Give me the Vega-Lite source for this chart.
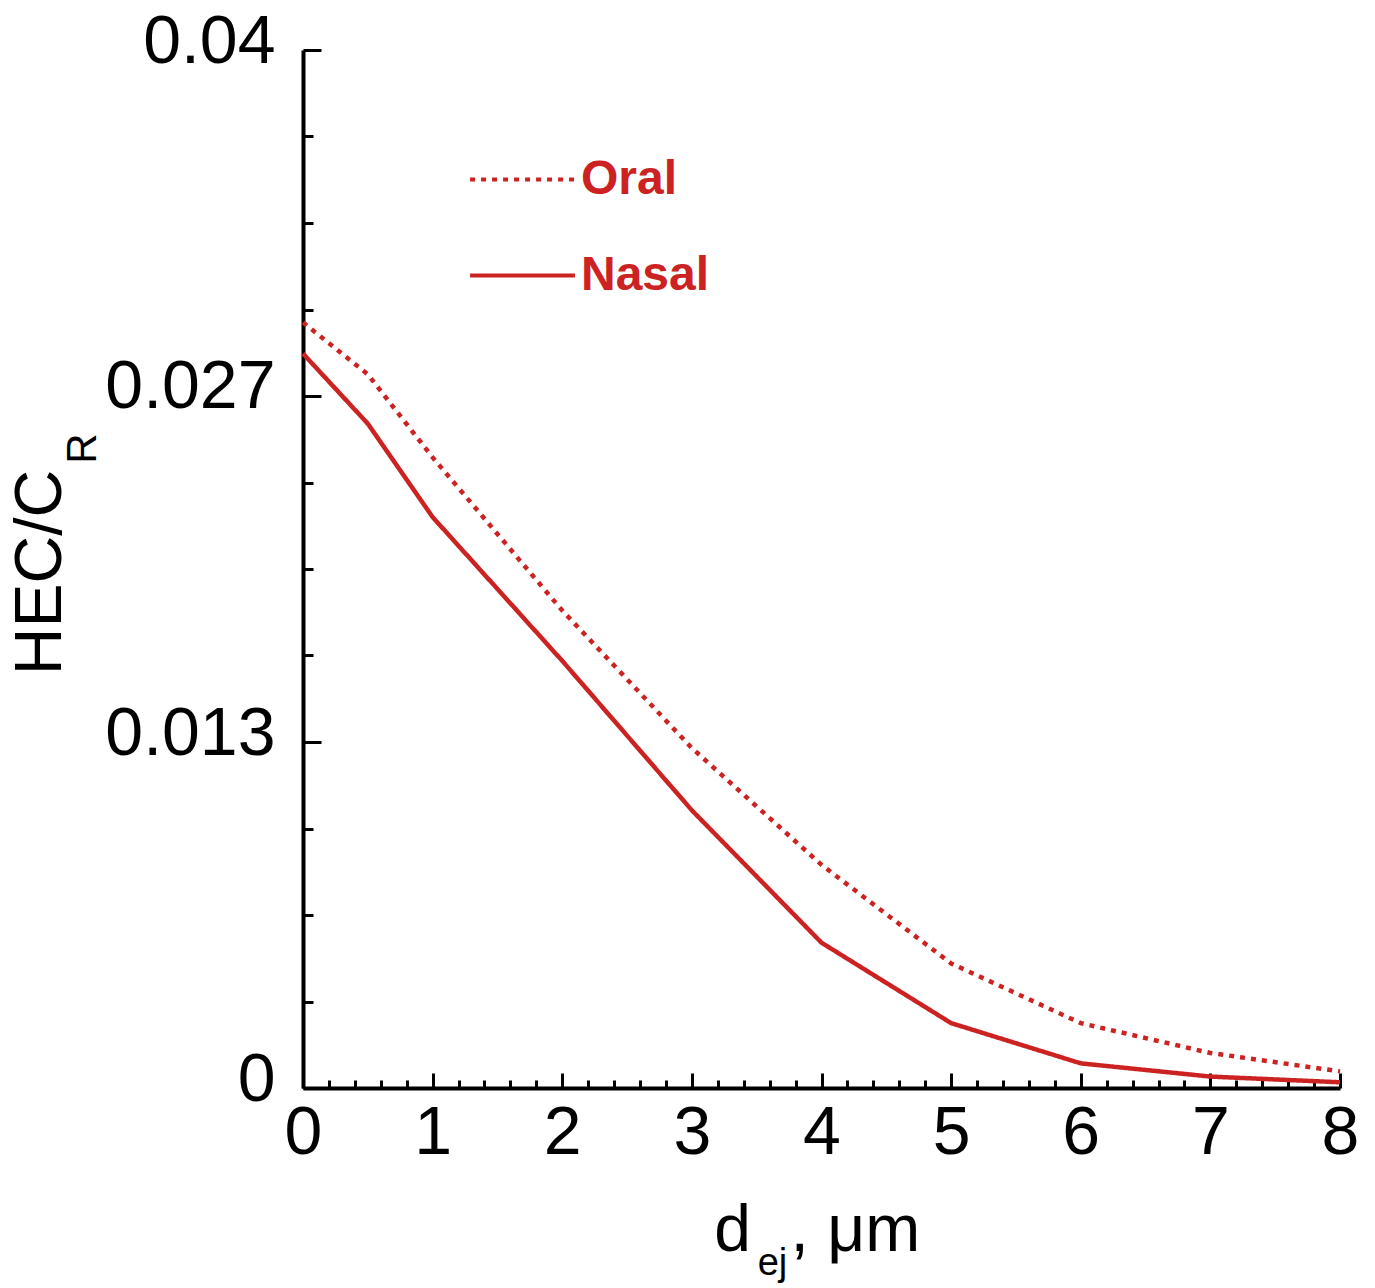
{
  "$schema": "https://vega.github.io/schema/vega-lite/v6.json",
  "width": 1037,
  "height": 1038,
  "autosize": {"type": "none"},
  "padding": {"left": 303, "top": 50, "right": 35, "bottom": 200},
  "background": "white",
  "config": {"view": {"stroke": null}, "font": "Liberation Sans"},
  "data": {"values": [
    {"series": "Oral", "x": 0, "y": 0.0295},
    {"series": "Oral", "x": 0.5, "y": 0.0275},
    {"series": "Oral", "x": 1, "y": 0.0243},
    {"series": "Oral", "x": 2, "y": 0.0184},
    {"series": "Oral", "x": 3, "y": 0.0131},
    {"series": "Oral", "x": 4, "y": 0.0086},
    {"series": "Oral", "x": 5, "y": 0.0048},
    {"series": "Oral", "x": 6, "y": 0.0025},
    {"series": "Oral", "x": 7, "y": 0.00135},
    {"series": "Oral", "x": 8, "y": 0.00064},
    {"series": "Nasal", "x": 0, "y": 0.0283},
    {"series": "Nasal", "x": 0.5, "y": 0.0256},
    {"series": "Nasal", "x": 1, "y": 0.0220},
    {"series": "Nasal", "x": 2, "y": 0.01646},
    {"series": "Nasal", "x": 3, "y": 0.0107},
    {"series": "Nasal", "x": 4, "y": 0.0056},
    {"series": "Nasal", "x": 5, "y": 0.0025},
    {"series": "Nasal", "x": 6, "y": 0.00095},
    {"series": "Nasal", "x": 7, "y": 0.00044},
    {"series": "Nasal", "x": 8, "y": 0.00022}
  ]},
  "resolve": {"axis": {"x": "independent", "y": "independent"}},
  "layer": [
    {
      "mark": {"type": "line", "color": "#cc2222", "strokeWidth": 4.5},
      "encoding": {
        "x": {"field": "x", "type": "quantitative",
          "scale": {"domain": [0, 8], "nice": false, "zero": false},
          "axis": {
            "orient": "bottom",
            "values": [0,0.2,0.4,0.6,0.8,1,1.2,1.4,1.6,1.8,2,2.2,2.4,2.6,2.8,3,3.2,3.4,3.6,3.8,4,4.2,4.4,4.6,4.8,5,5.2,5.4,5.6,5.8,6,6.2,6.4,6.6,6.8,7,7.2,7.4,7.6,7.8,8],
            "labelExpr": "abs(datum.value - round(datum.value)) < 0.01 ? format(datum.value, 'd') : ''",
            "tickSize": {"condition": {"test": "abs(datum.value - round(datum.value)) < 0.01", "value": -15}, "value": -8},
            "tickWidth": 3, "tickColor": "black",
            "domainWidth": 4, "domainColor": "black",
            "grid": false,
            "labelFontSize": 68, "labelColor": "black", "labelFont": "Liberation Sans",
            "labelPadding": 26, "labelBaseline": "top", "labelFlush": false, "labelOverlap": false,
            "title": "d", "titleFontSize": 66, "titleFontWeight": "normal", "titleColor": "black",
            "titleX": 429, "titleY": 162, "titleBaseline": "alphabetic", "titleAlign": "center"
          }},
        "y": {"field": "y", "type": "quantitative",
          "scale": {"domain": [0, 0.04], "nice": false},
          "axis": {
            "orient": "left",
            "values": [0, 0.0033333, 0.0066667, 0.01, 0.0133333, 0.0166667, 0.02, 0.0233333, 0.0266667, 0.03, 0.0333333, 0.0366667, 0.04],
            "labelExpr": "datum.value == 0 ? '0' : abs(datum.value - 0.0133333) < 0.00001 ? '0.013' : abs(datum.value - 0.0266667) < 0.00001 ? '0.027' : abs(datum.value - 0.04) < 0.00001 ? '0.04' : ''",
            "tickSize": {"condition": {"test": "abs(datum.value * 75 - round(datum.value * 75)) < 0.01", "value": -18}, "value": -10},
            "tickWidth": 3, "tickColor": "black",
            "domainWidth": 4, "domainColor": "black",
            "grid": false,
            "labelFontSize": 68, "labelColor": "black", "labelFont": "Liberation Sans",
            "labelPadding": 46, "labelOffset": -8, "labelFlush": false, "labelOverlap": false,
            "title": "HEC/C", "titleFontSize": 66, "titleFontWeight": "normal", "titleColor": "black",
            "titleX": -263, "titleY": 522, "titleBaseline": "middle", "titleAlign": "center", "titleAngle": 270
          }},
        "strokeDash": {"field": "series", "type": "nominal",
          "scale": {"domain": ["Oral", "Nasal"], "range": [[5, 6], [1, 0]]},
          "legend": {
            "orient": "none", "legendX": 165, "legendY": 75, "title": null,
            "symbolType": "stroke", "symbolSize": 11000, "symbolStrokeWidth": 4,
            "symbolStrokeColor": "#cc2222",
            "labelFontSize": 48, "labelFontWeight": "bold", "labelColor": "#cc2222",
            "labelFont": "Liberation Sans", "labelOffset": 4, "rowPadding": 17, "labelLimit": 400
          }}
      }
    },
    {
      "mark": {"type": "point", "opacity": 0},
      "encoding": {
        "x": {"field": "x", "type": "quantitative",
          "axis": {"orient": "bottom", "domain": false, "ticks": false, "labels": false, "grid": false,
            "title": "ej", "titleFontSize": 38, "titleFontWeight": "normal", "titleColor": "black",
            "titleX": 469, "titleY": 186, "titleBaseline": "alphabetic", "titleAlign": "center"}},
        "y": {"field": "y", "type": "quantitative",
          "axis": {"orient": "left", "domain": false, "ticks": false, "labels": false, "grid": false,
            "title": "R", "titleFontSize": 42, "titleFontWeight": "normal", "titleColor": "black",
            "titleX": -221, "titleY": 398, "titleBaseline": "middle", "titleAlign": "center", "titleAngle": 270}}
      }
    },
    {
      "mark": {"type": "point", "opacity": 0},
      "encoding": {
        "x": {"field": "x", "type": "quantitative",
          "axis": {"orient": "bottom", "domain": false, "ticks": false, "labels": false, "grid": false,
            "title": ", μm", "titleFontSize": 66, "titleFontWeight": "normal", "titleColor": "black",
            "titleX": 487, "titleY": 162, "titleBaseline": "alphabetic", "titleAlign": "left"}},
        "y": {"field": "y", "type": "quantitative", "axis": null}
      }
    }
  ]
}
